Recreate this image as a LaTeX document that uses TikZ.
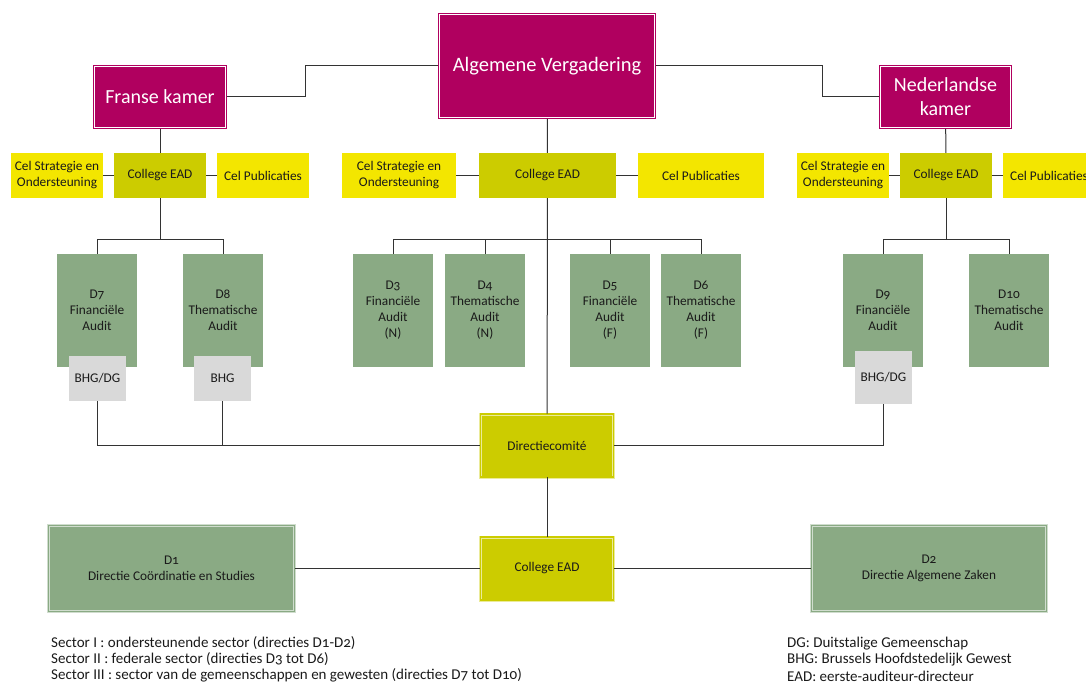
\documentclass[tikz,border=0pt]{standalone}
\usepackage{fontspec}
\setmainfont{Carlito}[Numbers=OldStyle]
\usetikzlibrary{positioning}

\definecolor{avmag}{HTML}{B0005F}
\definecolor{eadolive}{HTML}{CCCC00}
\definecolor{celyel}{HTML}{F3E600}
\definecolor{dirgreen}{HTML}{8AAA84}
\definecolor{bhggray}{HTML}{D9D9D9}
\definecolor{txtdark}{HTML}{1A1A1A}

\begin{document}
\begin{tikzpicture}[x=1pt,y=-1pt,
	every node/.style={inner sep=0pt,align=center,text=txtdark,font=\fontsize{13.3}{16}\selectfont},
	kamer/.style={fill=avmag,draw=white,double=avmag,double distance=1.6pt,line width=0.7pt,text=white,font=\fontsize{20}{24}\selectfont},
	college/.style={fill=eadolive,minimum width=92pt,minimum height=45pt},
	cel/.style={fill=celyel,minimum width=92pt,minimum height=45pt},
	dir/.style={fill=dirgreen,minimum width=80pt,minimum height=113pt},
	gewest/.style={fill=bhggray,minimum width=57pt,minimum height=45pt},
	comite/.style={fill=eadolive,draw=white!60!eadolive,double=eadolive,double distance=1.6pt,line width=0.7pt,minimum width=133pt,minimum height=63pt},
	sector/.style={fill=dirgreen,draw=white!60!dirgreen,double=dirgreen,double distance=1.6pt,line width=0.7pt,minimum height=86pt},
	legend/.style={anchor=west,align=left,font=\fontsize{15}{17}\selectfont},
	link/.style={draw=black!80,line width=1pt}]
\useasboundingbox (0,0) rectangle (1086,684);

%kamers
\node[kamer,minimum width=217pt,minimum height=105pt,font=\fontsize{20.5}{24}\selectfont] (av) at (547,66) {Algemene Vergadering};
\node[kamer,minimum width=133pt,minimum height=63pt] (fk) at (160,97) {Franse kamer};
\node[kamer,minimum width=132pt,minimum height=63pt] (nk) at (945.5,97) {Nederlandse\\kamer};

%colleges en cellen
\foreach \n/\x in {1/160,3/946}
	{\node[college] (ce\n) at (\x,175.5) {College EAD};
	\node[cel] (cs\n) at (\x-103,175.5) {Cel Strategie en\\Ondersteuning};
	\node[cel] (cp\n) at (\x+103,175.5) {Cel Publicaties};}
\node[college,minimum width=137pt] (ce2) at (547.5,175.5) {College EAD};
\node[cel,minimum width=114pt] (cs2) at (399,175.5) {Cel Strategie en\\Ondersteuning};
\node[cel,minimum width=126pt] (cp2) at (701,175.5) {Cel Publicaties};

%directies
\foreach \n/\x/\txt in {7/97/{D7\\Financiële\\Audit},8/223/{D8\\Thematische\\Audit},
	3/393/{D3\\Financiële\\Audit\\(N)},4/485/{D4\\Thematische\\Audit\\(N)},
	5/610/{D5\\Financiële\\Audit\\(F)},6/701/{D6\\Thematische\\Audit\\(F)},
	9/883/{D9\\Financiële\\Audit},10/1009/{D10\\Thematische\\Audit}}
	\node[dir] (d\n) at (\x,310.5) {\txt};

%gewesten
\node[gewest] (bhg7) at (97.5,378.5) {BHG/DG};
\node[gewest] (bhg8) at (222.5,378.5) {BHG};
\node[gewest,minimum height=53pt] (bhg9) at (883.5,377.5) {BHG/DG};

%onderaan
\node[comite] (dc) at (547,445.5) {Directiecomité};
\node[comite] (ce4) at (547,568.5) {College EAD};
\node[sector,minimum width=246pt] (d1) at (171.5,568.5) {D1\\Directie Coördinatie en Studies};
\node[sector,minimum width=235pt] (d2) at (929,568.5) {D2\\Directie Algemene Zaken};

%legende
\node[legend] (s1) at (51,643) {Sector I : ondersteunende sector (directies D1-D2)};
\node[legend] (s2) at (51,659) {Sector II : federale sector (directies D3 tot D6)};
\node[legend] (s3) at (51,675) {Sector III : sector van de gemeenschappen en gewesten (directies D7 tot D10)};
\node[legend] (l1) at (787,644) {DG: Duitstalige Gemeenschap};
\node[legend] (l2) at (787,660) {BHG: Brussels Hoofdstedelijk Gewest};
\node[legend] (l3) at (787,676) {EAD: eerste-auditeur-directeur};

%edges
\draw[link] (fk.east) -- ++(79,0) |- (av.west);
\draw[link] (av.east) -- ++(167,0) |- (nk.west);
\draw[link] (fk) -- (ce1);
\draw[link] (av) -- (ce2);
\draw[link] (nk) -- (ce3);
\foreach \n in {1,2,3}
	\draw[link] (cs\n) -- (ce\n) -- (cp\n);

%vertakkingen
\draw[link] (ce1.south) -- ++(0,42);
\draw[link] (d7.north) -- ++(0,-14) -| (d8.north);
\draw[link] (ce3.south) -- ++(0,42);
\draw[link] (d9.north) -- ++(0,-14) -| (d10.north);
\draw[link] (d3.north) -- ++(0,-14) -| (d6.north);
\draw[link] (d4.north) -- ++(0,-14);
\draw[link] (d5.north) -- ++(0,-14);
\draw[link] (ce2) -- (dc);

%naar directiecomite
\draw[link] (bhg7.south) |- (dc.west);
\draw[link] (bhg8.south) |- (dc.west);
\draw[link] (bhg9.south) |- (dc.east);
\draw[link] (dc) -- (ce4);
\draw[link] (d1) -- (ce4) -- (d2);
\end{tikzpicture}
\end{document}
